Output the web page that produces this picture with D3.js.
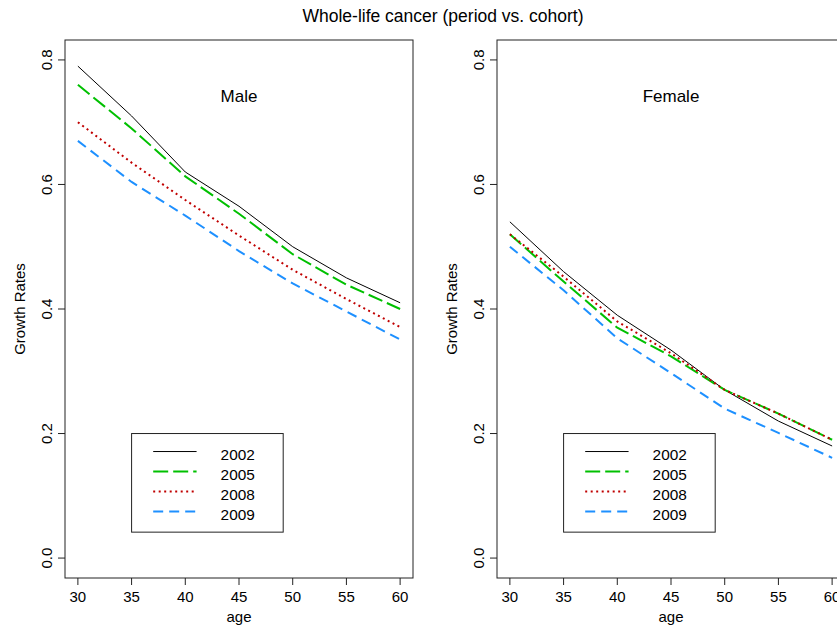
<!DOCTYPE html>
<html>
<head>
<meta charset="utf-8">
<style>
  body { margin: 0; background: #fff; }
  svg { display: block; font-family: "Liberation Sans", Arial, sans-serif; }
</style>
</head>
<body>
<svg id="chart" width="837" height="628"></svg>

<script src="https://cdn.jsdelivr.net/npm/d3@7"></script>
<script>
  // data
  const ages = [30, 35, 40, 45, 50, 55, 60];
  const years = ["2002", "2005", "2008", "2009"];
  const yTicks = [0, 0.2, 0.4, 0.6, 0.8];
  const xTicks = [30, 35, 40, 45, 50, 55, 60];

  const male2002 = [0.79, 0.71, 0.62, 0.565, 0.50, 0.45, 0.41];
  const male2005 = [0.76, 0.69, 0.613, 0.553, 0.488, 0.439, 0.40];
  const male2008 = [0.70, 0.635, 0.575, 0.518, 0.463, 0.416, 0.371];
  const male2009 = [0.67, 0.604, 0.55, 0.493, 0.441, 0.396, 0.351];

  const female2002 = [0.54, 0.46, 0.39, 0.334, 0.27, 0.22, 0.18];
  const female2005 = [0.52, 0.444, 0.37, 0.324, 0.27, 0.232, 0.19];
  const female2008 = [0.52, 0.452, 0.38, 0.329, 0.27, 0.232, 0.19];
  const female2009 = [0.50, 0.43, 0.353, 0.297, 0.24, 0.201, 0.161];

  const styles = [
    { color: "#000000", width: 1, dash: null },
    { color: "#00c000", width: 2, dash: "15,5" },
    { color: "#c00000", width: 2, dash: "2,3.5" },
    { color: "#1e90ff", width: 2, dash: "10,6" }
  ];

  const svg = d3.select("#chart");

  svg.append("text")
    .attr("x", 443).attr("y", 22)
    .attr("text-anchor", "middle")
    .attr("font-size", 17.5)
    .text("Whole-life cancer (period vs. cohort)");

  const boxTop = 40, boxBottom = 578, boxW = 348;

  function panel(left, label, series) {
    const x = d3.scaleLinear().domain([28.8, 61.2]).range([left, left + boxW]);
    const y = d3.scaleLinear().domain([-0.032, 0.832]).range([boxBottom, boxTop]);
    const g = svg.append("g");

    g.append("rect")
      .attr("x", left).attr("y", boxTop)
      .attr("width", boxW).attr("height", boxBottom - boxTop)
      .attr("fill", "none").attr("stroke", "#222").attr("stroke-width", 1);

    // y axis
    g.selectAll("line.yt").data(yTicks).join("line")
      .attr("x1", left - 7).attr("x2", left)
      .attr("y1", d => y(d)).attr("y2", d => y(d))
      .attr("stroke", "#222");
    g.selectAll("text.yl").data(yTicks).join("text")
      .attr("transform", d => `translate(${left - 13},${y(d)}) rotate(-90)`)
      .attr("text-anchor", "middle")
      .attr("font-size", 15)
      .text(d => d3.format(".1f")(d));

    // x axis
    g.selectAll("line.xt").data(xTicks).join("line")
      .attr("x1", d => x(d)).attr("x2", d => x(d))
      .attr("y1", boxBottom).attr("y2", boxBottom + 7)
      .attr("stroke", "#222");
    g.selectAll("text.xl").data(xTicks).join("text")
      .attr("x", d => x(d)).attr("y", 602)
      .attr("text-anchor", "middle")
      .attr("font-size", 15)
      .text(d => d);

    g.append("text")
      .attr("x", left + boxW / 2).attr("y", 622)
      .attr("text-anchor", "middle").attr("font-size", 15)
      .text("age");
    g.append("text")
      .attr("transform", `translate(${left - 40},${(boxTop + boxBottom) / 2}) rotate(-90)`)
      .attr("text-anchor", "middle").attr("font-size", 15)
      .text("Growth Rates");

    g.append("text")
      .attr("x", x(45)).attr("y", 102)
      .attr("text-anchor", "middle").attr("font-size", 17)
      .text(label);

    const line = d3.line().x((d, i) => x(ages[i])).y(d => y(d));
    series.forEach((vals, k) => {
      g.append("path")
        .attr("d", line(vals))
        .attr("fill", "none")
        .attr("stroke", styles[k].color)
        .attr("stroke-width", styles[k].width)
        .attr("stroke-dasharray", styles[k].dash);
    });

    // legend
    const lx = x(35), ly = y(0.2);
    const lg = g.append("g").attr("transform", `translate(${lx},${ly})`);
    lg.append("rect")
      .attr("width", 151.6).attr("height", 98.6)
      .attr("fill", "#fff").attr("stroke", "#222");
    years.forEach((yr, k) => {
      const ry = 18 + k * 20;
      lg.append("line")
        .attr("x1", 21.6).attr("x2", 65)
        .attr("y1", ry).attr("y2", ry)
        .attr("stroke", styles[k].color)
        .attr("stroke-width", styles[k].width)
        .attr("stroke-dasharray", styles[k].dash);
      lg.append("text")
        .attr("x", 89).attr("y", ry + 8)
        .attr("font-size", 15.4)
        .text(yr);
    });
  }

  panel(65, "Male", [male2002, male2005, male2008, male2009]);
  panel(497, "Female", [female2002, female2005, female2008, female2009]);
</script>
</body>
</html>
